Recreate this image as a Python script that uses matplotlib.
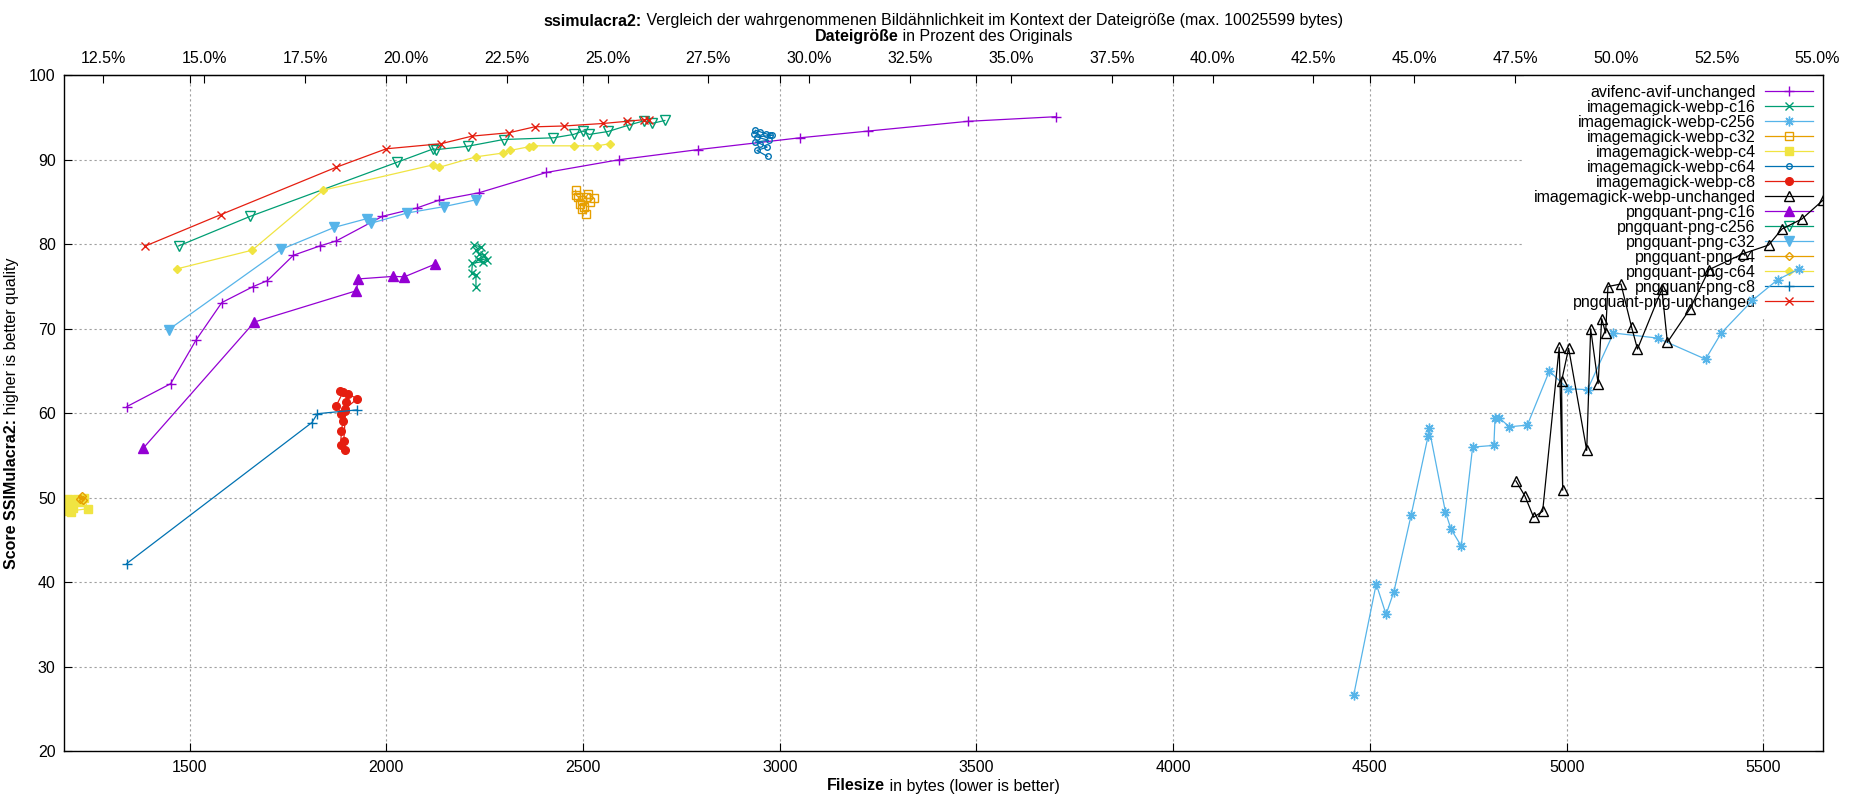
import numpy as np
import matplotlib
matplotlib.use("Agg")
import matplotlib.pyplot as plt
from matplotlib.ticker import FormatStrFormatter

plt.rcParams["font.family"] = ["Liberation Sans", "DejaVu Sans"]

# size of the original file, used for the percent axis on top
ORIG_SIZE = 10250

# data: filesize (bytes) / ssimulacra2 score
avif_x = [1341, 1452, 1517, 1582, 1662, 1698, 1764, 1831, 1873, 1990, 2078, 2133,
          2236, 2407, 2591, 2792, 3051, 3225, 3478, 3703]
avif_y = [60.8, 63.5, 68.7, 73.1, 75.0, 75.7, 78.7, 79.8, 80.4, 83.3, 84.3, 85.2,
          86.1, 88.5, 90.0, 91.2, 92.6, 93.4, 94.55, 95.1]

webp_c16_x = [2223, 2240, 2228, 2236, 2249, 2257, 2232, 2245, 2219, 2217, 2228, 2228]
webp_c16_y = [79.9, 79.7, 79.3, 78.9, 78.7, 78.1, 78.3, 77.95, 77.75, 76.6, 76.4, 74.9]

webp_c256_x = [4459, 4516, 4541, 4561, 4605, 4648, 4650, 4692, 4706, 4732, 4761, 4815,
               4818, 4829, 4854, 4900, 4956, 5003, 5053, 5119, 5231, 5353, 5393, 5472,
               5536, 5591]
webp_c256_y = [26.7, 39.8, 36.2, 38.9, 48.0, 57.35, 58.3, 48.3, 46.3, 44.3, 56.0, 56.2,
               59.45, 59.45, 58.4, 58.6, 65.0, 62.9, 62.8, 69.5, 68.9, 66.4, 69.5, 73.35,
               75.8, 77.1]

webp_c32_x = [2481, 2483, 2488, 2498, 2508, 2513, 2527, 2517, 2493, 2503, 2498, 2508]
webp_c32_y = [86.4, 85.8, 85.6, 85.2, 85.6, 86.0, 85.5, 85.0, 84.8, 84.4, 84.2, 83.6]

webp_c4_x = [1181, 1186, 1192, 1197, 1203, 1208, 1214, 1222, 1232, 1241, 1190, 1200]
webp_c4_y = [48.6, 49.2, 49.8, 49.3, 48.8, 49.7, 49.9, 49.5, 50.0, 48.7, 48.4, 48.3]

webp_c64_x = [2934, 2938, 2951, 2964, 2976, 2981, 2942, 2972, 2938, 2951, 2968, 2942, 2969]
webp_c64_y = [93.1, 93.5, 93.3, 93.1, 92.9, 92.9, 92.7, 92.3, 92.1, 91.9, 91.5, 91.1, 90.4]

webp_c8_x = [1882, 1890, 1873, 1886, 1894, 1890, 1886, 1884, 1894, 1892, 1898, 1903, 1926, 1894]
webp_c8_y = [62.6, 62.5, 60.9, 59.9, 60.3, 59.1, 57.9, 56.3, 55.7, 56.7, 61.3, 62.3, 61.7, 60.5]

webp_unch_x = [4871, 4894, 4916, 4939, 4981, 4990, 4987, 5005, 5051, 5061, 5080, 5089,
               5099, 5105, 5138, 5165, 5180, 5242, 5256, 5314, 5362, 5449, 5513, 5547,
               5598, 5651]
webp_unch_y = [52.0, 50.2, 47.7, 48.4, 67.8, 50.9, 63.8, 67.7, 55.6, 70.0, 63.5, 71.2,
               69.5, 75.0, 75.3, 70.2, 67.6, 74.7, 68.4, 72.4, 77.0, 78.9, 79.9, 81.8,
               83.0, 85.2]

png_c16_x = [1383, 1665, 1924, 1929, 2018, 2046, 2124]
png_c16_y = [55.9, 70.8, 74.5, 75.9, 76.2, 76.15, 77.65]

png_c256_x = [1472, 1654, 2027, 2120, 2127, 2207, 2298, 2425, 2476, 2500, 2516, 2564,
              2616, 2654, 2675, 2708]
png_c256_y = [79.8, 83.3, 89.7, 91.3, 91.2, 91.6, 92.4, 92.6, 93.0, 93.4, 93.0, 93.35,
              94.1, 94.6, 94.3, 94.65]

png_c32_x = [1447, 1733, 1868, 1952, 1962, 2053, 2146, 2227]
png_c32_y = [69.9, 79.4, 82.0, 83.05, 82.5, 83.7, 84.45, 85.25]

png_c4_x = [1221, 1226, 1230]
png_c4_y = [49.9, 50.2, 49.7]

png_c64_x = [1469, 1659, 1840, 2119, 2134, 2228, 2297, 2314, 2364, 2373, 2476, 2536, 2568]
png_c64_y = [77.1, 79.3, 86.4, 89.4, 89.1, 90.35, 90.8, 91.1, 91.55, 91.65, 91.65, 91.65, 91.9]

png_c8_x = [1340, 1811, 1825, 1926]
png_c8_y = [42.2, 58.9, 59.95, 60.4]

png_unch_x = [1388, 1579, 1872, 2000, 2139, 2218, 2312, 2377, 2452, 2552, 2611, 2656, 2667]
png_unch_y = [79.8, 83.5, 89.1, 91.3, 91.9, 92.8, 93.2, 93.9, 94.0, 94.3, 94.55, 94.75, 94.75]

# label, x, y, colour, marker, filled, markersize
series = [
    ("avifenc-avif-unchanged", avif_x, avif_y, "#9400D3", "+", True, 7),
    ("imagemagick-webp-c16", webp_c16_x, webp_c16_y, "#009E73", "x", True, 6),
    ("imagemagick-webp-c256", webp_c256_x, webp_c256_y, "#56B4E9", (8, 2, 0), True, 7),
    ("imagemagick-webp-c32", webp_c32_x, webp_c32_y, "#E69F00", "s", False, 6),
    ("imagemagick-webp-c4", webp_c4_x, webp_c4_y, "#F0E442", "s", True, 6),
    ("imagemagick-webp-c64", webp_c64_x, webp_c64_y, "#0072B2", "o", False, 4),
    ("imagemagick-webp-c8", webp_c8_x, webp_c8_y, "#E51E10", "o", True, 5.5),
    ("imagemagick-webp-unchanged", webp_unch_x, webp_unch_y, "#000000", "^", False, 6.5),
    ("pngquant-png-c16", png_c16_x, png_c16_y, "#9400D3", "^", True, 6.5),
    ("pngquant-png-c256", png_c256_x, png_c256_y, "#009E73", "v", False, 6.5),
    ("pngquant-png-c32", png_c32_x, png_c32_y, "#56B4E9", "v", True, 6.5),
    ("pngquant-png-c4", png_c4_x, png_c4_y, "#E69F00", "D", False, 4.5),
    ("pngquant-png-c64", png_c64_x, png_c64_y, "#F0E442", "D", True, 4.5),
    ("pngquant-png-c8", png_c8_x, png_c8_y, "#0072B2", "+", True, 7),
    ("pngquant-png-unchanged", png_unch_x, png_unch_y, "#E51E10", "x", True, 6),
]


def mixed_text(fig, x, y, bold, normal, vertical=False, size=11.5):
    """Bold part followed by a normal part, centred as one line at (x, y)."""
    rot = 90 if vertical else 0
    t1 = fig.text(0, 0, bold, weight="bold", fontsize=size, rotation=rot)
    t2 = fig.text(0, 0, " " + normal, fontsize=size, rotation=rot)
    r = fig.canvas.get_renderer()
    b1 = t1.get_window_extent(r)
    b2 = t2.get_window_extent(r)
    W, H = fig.bbox.width, fig.bbox.height
    if not vertical:
        start = x * W - (b1.width + b2.width) / 2
        t1.set_position((start / W, y))
        t2.set_position(((start + b1.width) / W, y))
        for t in (t1, t2):
            t.set_ha("left")
            t.set_va("center")
    else:
        start = y * H - (b1.height + b2.height) / 2
        t1.set_position((x, start / H))
        t2.set_position((x, (start + b1.height) / H))
        for t in (t1, t2):
            t.set_ha("center")
            t.set_va("bottom")


fig = plt.figure(figsize=(18.5, 8), dpi=100)
ax = fig.add_axes([0.0346, 0.0609, 0.9507, 0.845])

for label, xs, ys, color, marker, filled, ms in series:
    ax.plot(xs, ys, color=color, lw=0.9, marker=marker, ms=ms, mew=1.0,
            mfc=color if filled else "none", mec=color, label=label, zorder=2)

all_x = [v for s in series for v in s[1]]
ax.set_xlim(min(all_x), max(all_x))
ax.set_ylim(20, 100)
ax.set_xticks(np.arange(1500, 5501, 500))
ax.set_yticks(np.arange(20, 101, 10))

ax.set_axisbelow(True)
ax.grid(True, color="#a0a0a0", lw=0.8, linestyle=(0, (2, 2.5)))
ax.tick_params(direction="in", length=6, width=0.8, top=True, right=True,
               labelsize=11.5, pad=6)
for sp in ax.spines.values():
    sp.set_linewidth(1.0)

# percent axis on top
sec = ax.secondary_xaxis("top", functions=(lambda x: x / ORIG_SIZE * 100,
                                           lambda p: p * ORIG_SIZE / 100))
sec.set_xticks(np.arange(12.5, 55.01, 2.5))
sec.xaxis.set_major_formatter(FormatStrFormatter("%.1f%%"))
sec.tick_params(direction="in", length=6, width=0.8, labelsize=11.5, pad=7)

leg = ax.legend(loc="upper right", markerfirst=False, fontsize=11.5,
                frameon=True, facecolor="white", edgecolor="none", framealpha=1,
                fancybox=False, borderaxespad=0, borderpad=0.6, labelspacing=0.0,
                handlelength=3.0, handletextpad=0.6, numpoints=1)
leg.set_zorder(1.5)

mixed_text(fig, 0.51, 1 - 21 / 800, "ssimulacra2:",
           "Vergleich der wahrgenommenen Bildähnlichkeit im Kontext der Dateigröße (max. 10025599 bytes)")
mixed_text(fig, 0.51, 1 - 37 / 800, "Dateigröße", "in Prozent des Originals")
mixed_text(fig, 0.51, 1 - 786 / 800, "Filesize", "in bytes (lower is better)")
mixed_text(fig, 12 / 1850, 0.0609 + 0.845 / 2, "Score SSIMulacra2:",
           "higher is better quality", vertical=True)

fig.savefig("out.png", dpi=100)
